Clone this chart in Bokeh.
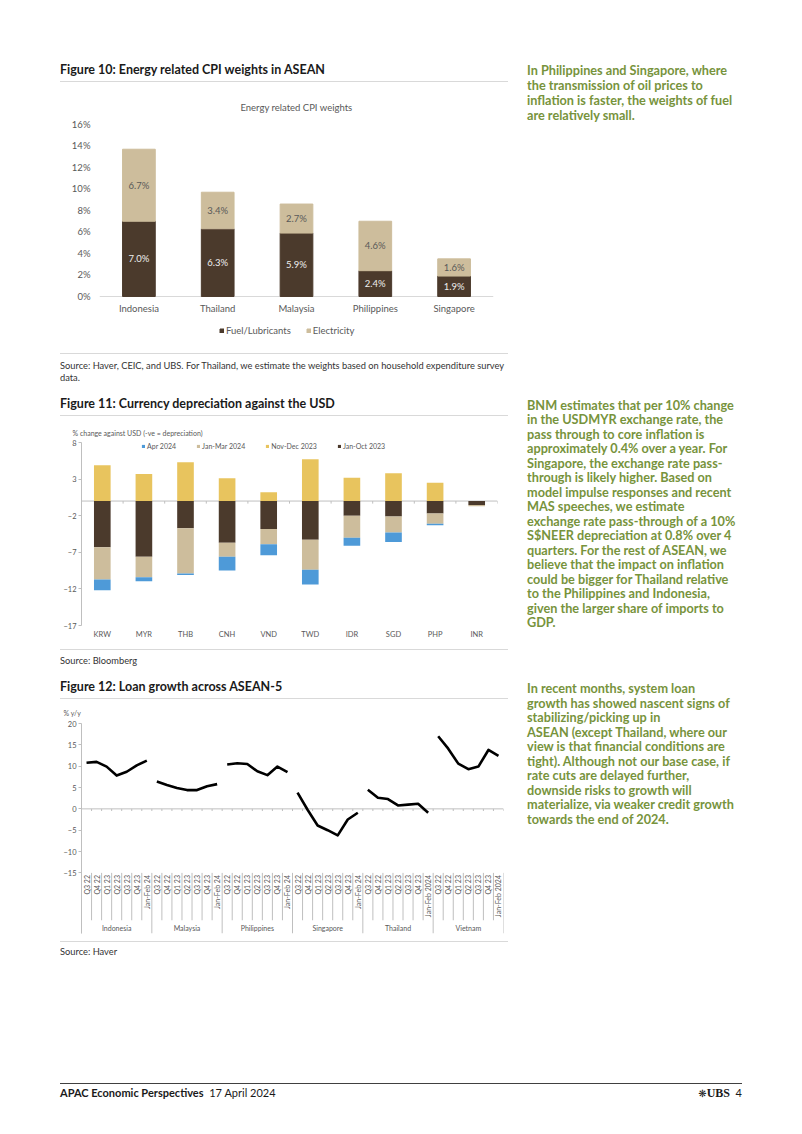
import numpy as np
from math import pi
from bokeh.plotting import figure
from bokeh.models import (ColumnDataSource, Div, Spacer, Span, Legend, LegendItem,
                          FixedTicker, PrintfTickFormatter, FactorRange, Range1d)
from bokeh.layouts import column, row
from bokeh.embed import file_html
from bokeh.resources import INLINE
from bokeh.core.properties import value

FONT = "Lato"
AX_GRAY = "#595959"
LINE_GRAY = "#bfbfbf"
DARK = "#4b3a2c"
TAN = "#cdbd9c"
GOLD = "#e8c45e"
BLUE = "#4e9ad8"
GREEN = "#77933c"

# ---------------- Figure 10 data ----------------
cpi_countries = ["Indonesia", "Thailand", "Malaysia", "Philippines", "Singapore"]
cpi_fuel = [7.0, 6.3, 5.9, 2.4, 1.9]
cpi_electricity = [6.7, 3.4, 2.7, 4.6, 1.6]
cpi_ticks = [0, 2, 4, 6, 8, 10, 12, 14, 16]

# ---------------- Figure 11 data ----------------
fx_currencies = ["KRW", "MYR", "THB", "CNH", "VND", "TWD", "IDR", "SGD", "PHP", "INR"]
fx_jan_oct_2023 = [-6.3, -7.6, -3.7, -5.7, -3.8, -5.3, -2.0, -2.1, -1.7, -0.55]
fx_nov_dec_2023 = [4.9, 3.7, 5.3, 3.1, 1.2, 5.7, 3.2, 3.8, 2.5, 0.0]
fx_jan_mar_2024 = [-4.4, -2.8, -6.2, -1.9, -2.1, -4.1, -3.0, -2.2, -1.4, -0.15]
fx_apr_2024 = [-1.5, -0.55, -0.2, -1.9, -1.5, -2.0, -1.1, -1.3, -0.2, 0.0]
fx_ticks = [8, 3, -2, -7, -12, -17]

# ---------------- Figure 12 data ----------------
loan_countries = ["Indonesia", "Malaysia", "Philippines", "Singapore", "Thailand", "Vietnam"]
periods_24 = ["Q3 22", "Q4 22", "Q1 23", "Q2 23", "Q3 23", "Q4 23", "Jan-Feb 24"]
periods_2024 = ["Q3 22", "Q4 22", "Q1 23", "Q2 23", "Q3 23", "Q4 23", "Jan-Feb 2024"]
loan_periods = [periods_24, periods_24, periods_24, periods_24, periods_2024, periods_2024]
loan_indonesia = [10.8, 11.0, 9.9, 7.8, 8.7, 10.2, 11.3]
loan_malaysia = [6.4, 5.6, 4.9, 4.4, 4.4, 5.3, 5.8]
loan_philippines = [10.4, 10.7, 10.5, 8.8, 7.9, 9.9, 8.6]
loan_singapore = [3.8, -0.2, -3.9, -5.0, -6.2, -2.5, -0.9]
loan_thailand = [4.5, 2.6, 2.3, 0.8, 1.0, 1.2, -0.9]
loan_vietnam = [17.0, 14.1, 10.6, 9.3, 9.9, 13.8, 12.4]
loan_values = [loan_indonesia, loan_malaysia, loan_philippines, loan_singapore, loan_thailand, loan_vietnam]
loan_ticks = [-15, -10, -5, 0, 5, 10, 15, 20]


def base_style(p):
    p.outline_line_color = None
    p.xgrid.visible = False
    p.ygrid.visible = False
    p.background_fill_color = "white"
    p.border_fill_color = "white"


# ================= Figure 10 chart =================
P1_BOTTOM = -4.56      # frame extends below zero to hold category labels and legend
P1_LABEL_Y = -1.12
src1 = ColumnDataSource(dict(
    country=cpi_countries, fuel=cpi_fuel, electricity=cpi_electricity,
    fuel_mid=[f / 2 for f in cpi_fuel],
    elec_mid=[f + e / 2 for f, e in zip(cpi_fuel, cpi_electricity)],
    fuel_lbl=[f"{f:.1f}%" for f in cpi_fuel],
    elec_lbl=[f"{e:.1f}%" for e in cpi_electricity],
    lbl_y=[P1_LABEL_Y] * len(cpi_countries),
))
p1 = figure(x_range=FactorRange(*cpi_countries), y_range=Range1d(P1_BOTTOM, 16), x_axis_location=None,
            width=448, height=271, output_backend="svg", toolbar_location=None,
            min_border_left=39, min_border_right=15, min_border_top=42, min_border_bottom=8,
            title="Energy related CPI weights")
base_style(p1)
p1.add_layout(Span(location=0, dimension="width", line_color="#d9d9d9", line_width=1, level="underlay"))
rs1 = p1.vbar_stack(["fuel", "electricity"], x="country", width=0.415, color=[DARK, TAN], source=src1)
p1.text(x="country", y="fuel_mid", text="fuel_lbl", source=src1, text_align="center",
        text_baseline="middle", text_font=value(FONT), text_font_size="9.5px", text_color="#eeeeee")
p1.text(x="country", y="elec_mid", text="elec_lbl", source=src1, text_align="center",
        text_baseline="middle", text_font=value(FONT), text_font_size="9.5px", text_color=AX_GRAY)
p1.text(x="country", y="lbl_y", text="country", source=src1, text_align="center",
        text_baseline="middle", text_font=value(FONT), text_font_size="9.5px", text_color=AX_GRAY)
p1.yaxis.ticker = FixedTicker(ticks=cpi_ticks)
p1.yaxis.formatter = PrintfTickFormatter(format="%d%%")
p1.yaxis.axis_line_color = None
p1.yaxis.major_tick_line_color = None
p1.yaxis.major_tick_out = 0
p1.yaxis.major_tick_in = 0
p1.yaxis.minor_tick_line_color = None
p1.yaxis.major_label_standoff = 9
p1.yaxis.major_label_text_font = FONT
p1.yaxis.major_label_text_font_size = "9.5px"
p1.yaxis.major_label_text_color = AX_GRAY
p1.title.align = "center"
p1.title.offset = -11
p1.title.standoff = 24
p1.title.text_font = FONT
p1.title.text_font_size = "9.5px"
p1.title.text_font_style = "normal"
p1.title.text_color = AX_GRAY
leg1 = Legend(items=[LegendItem(label="Fuel/Lubricants", renderers=[rs1[0]]),
                     LegendItem(label="Electricity", renderers=[rs1[1]])],
              orientation="horizontal", location=(120, 8.6), glyph_width=5, glyph_height=5,
              label_standoff=2, spacing=15, padding=0, margin=0,
              label_text_font=FONT, label_text_font_size="9.5px", label_text_color=AX_GRAY,
              border_line_color=None, background_fill_alpha=0)
p1.add_layout(leg1)

# ================= Figure 11 chart =================
jo = np.array(fx_jan_oct_2023)
nd = np.array(fx_nov_dec_2023)
jm = np.array(fx_jan_mar_2024)
ap = np.array(fx_apr_2024)
src2 = ColumnDataSource(dict(
    cur=fx_currencies,
    jo_top=np.zeros(len(jo)), jo_bot=jo,
    jm_top=jo, jm_bot=jo + jm,
    ap_top=jo + jm, ap_bot=jo + jm + ap,
    nd_top=nd, nd_bot=np.zeros(len(nd)),
))
p2 = figure(x_range=FactorRange(*fx_currencies), y_range=Range1d(-17, 8),
            width=448, height=233, output_backend="svg", toolbar_location=None,
            min_border_left=21, min_border_right=11, min_border_top=26, min_border_bottom=24,
            title="% change against USD (-ve = depreciation)")
base_style(p2)
p2.add_layout(Span(location=0, dimension="width", line_color=LINE_GRAY, line_width=1, level="underlay"))
bounds2 = list(range(len(fx_currencies) + 1))
p2.segment(x0=bounds2, y0=[0] * len(bounds2), x1=bounds2, y1=[-0.35] * len(bounds2), line_color=LINE_GRAY)
r_jo = p2.vbar(x="cur", top="jo_top", bottom="jo_bot", width=0.4, fill_color=DARK, line_color=None, source=src2)
r_nd = p2.vbar(x="cur", top="nd_top", bottom="nd_bot", width=0.4, fill_color=GOLD, line_color=None, source=src2)
r_jm = p2.vbar(x="cur", top="jm_top", bottom="jm_bot", width=0.4, fill_color=TAN, line_color=None, source=src2)
r_ap = p2.vbar(x="cur", top="ap_top", bottom="ap_bot", width=0.4, fill_color=BLUE, line_color=None, source=src2)
p2.yaxis.ticker = FixedTicker(ticks=fx_ticks)
p2.yaxis.axis_line_color = LINE_GRAY
p2.yaxis.major_tick_line_color = LINE_GRAY
p2.yaxis.major_tick_out = 3
p2.yaxis.major_tick_in = 0
p2.yaxis.minor_tick_line_color = None
p2.yaxis.major_label_standoff = 2
p2.xaxis.axis_line_color = None
p2.xaxis.major_tick_line_color = None
p2.xaxis.major_tick_out = 0
p2.xaxis.major_tick_in = 0
p2.xaxis.major_label_standoff = 4
for ax in (p2.xaxis, p2.yaxis):
    ax.major_label_text_font = FONT
    ax.major_label_text_font_size = "7.5px"
    ax.major_label_text_color = AX_GRAY
p2.title.align = "left"
p2.title.offset = -9
p2.title.standoff = 11
p2.title.text_font = FONT
p2.title.text_font_size = "7px"
p2.title.text_font_style = "normal"
p2.title.text_color = AX_GRAY
leg2 = Legend(items=[LegendItem(label="Apr 2024", renderers=[r_ap]),
                     LegendItem(label="Jan-Mar 2024", renderers=[r_jm]),
                     LegendItem(label="Nov-Dec 2023", renderers=[r_nd]),
                     LegendItem(label="Jan-Oct 2023", renderers=[r_jo])],
              orientation="horizontal", location=(60, 175), glyph_width=4, glyph_height=4,
              label_standoff=2, spacing=20, padding=0, margin=0,
              label_text_font=FONT, label_text_font_size="7px", label_text_color=AX_GRAY,
              border_line_color=None, background_fill_alpha=0)
p2.add_layout(leg2)

# ================= Figure 12 chart =================
loan_factors = [(c, per) for c, pers in zip(loan_countries, loan_periods) for per in pers]
Y_LABEL_TOP = -15.5
Y_SUB_SEP = -26.1
Y_GROUP_LBL = -28.0
Y_BOTTOM = -29.2
p3 = figure(x_range=FactorRange(*loan_factors, factor_padding=0, group_padding=0, range_padding=0),
            y_range=Range1d(Y_BOTTOM, 20), x_axis_location=None,
            width=448, height=242, output_backend="svg", toolbar_location=None,
            min_border_left=21, min_border_right=5, min_border_top=24, min_border_bottom=8,
            title="% y/y")
base_style(p3)
p3.add_layout(Span(location=0, dimension="width", line_color=LINE_GRAY, line_width=1, level="underlay"))
n_all = len(loan_factors)
bounds3 = list(range(n_all + 1))
group_edges = [0]
for pers in loan_periods:
    group_edges.append(group_edges[-1] + len(pers))
p3.segment(x0=bounds3, y0=[0] * len(bounds3), x1=bounds3, y1=[-0.5] * len(bounds3), line_color=LINE_GRAY)
sub_edges = [b for b in bounds3 if b not in group_edges]
p3.segment(x0=sub_edges, y0=[-15] * len(sub_edges), x1=sub_edges, y1=[Y_SUB_SEP] * len(sub_edges),
           line_color=LINE_GRAY)
p3.segment(x0=group_edges, y0=[-15] * len(group_edges), x1=group_edges, y1=[Y_BOTTOM] * len(group_edges),
           line_color=LINE_GRAY)
lbl_src = ColumnDataSource(dict(x=loan_factors, y=[Y_LABEL_TOP] * n_all, t=[f[1] for f in loan_factors]))
p3.text(x="x", y="y", text="t", source=lbl_src, angle=pi / 2, text_align="right", text_baseline="middle",
        text_font=value(FONT), text_font_size="7px", text_color=AX_GRAY)
grp_src = ColumnDataSource(dict(x=loan_countries, y=[Y_GROUP_LBL] * len(loan_countries), t=loan_countries))
p3.text(x="x", y="y", text="t", source=grp_src, text_align="center", text_baseline="middle",
        text_font=value(FONT), text_font_size="7px", text_color=AX_GRAY)
for c, pers, vals in zip(loan_countries, loan_periods, loan_values):
    p3.line(x=[(c, per) for per in pers], y=vals, line_color="black", line_width=2.6, line_join="round")
p3.yaxis.ticker = FixedTicker(ticks=loan_ticks)
p3.yaxis.axis_line_color = LINE_GRAY
p3.yaxis.major_tick_line_color = LINE_GRAY
p3.yaxis.major_tick_out = 3
p3.yaxis.major_tick_in = 0
p3.yaxis.minor_tick_line_color = None
p3.yaxis.major_label_standoff = 2
p3.yaxis.major_label_text_font = FONT
p3.yaxis.major_label_text_font_size = "7.5px"
p3.yaxis.major_label_text_color = AX_GRAY
p3.title.align = "left"
p3.title.offset = -18
p3.title.standoff = 14
p3.title.text_font = FONT
p3.title.text_font_size = "7px"
p3.title.text_font_style = "normal"
p3.title.text_color = AX_GRAY


# ================= Text blocks =================
def title_div(text):
    html = ('<div style="width:448px;height:22px;box-sizing:border-box;line-height:20px;'
            'border-bottom:1px solid #d9d9d9;font-family:Lato;font-weight:700;font-size:12.5px;'
            f'color:#1a1a1a;white-space:nowrap;">{text}</div>')
    return Div(text=html, width=448, height=22, margin=0)


def src_div(text, height, pad, size, lh):
    html = (f'<div style="width:448px;height:{height}px;box-sizing:border-box;border-top:1px solid #d9d9d9;'
            f'padding-top:{pad}px;font-family:Lato;font-size:{size}px;line-height:{lh}px;color:#333333;'
            f'white-space:nowrap;">{text}</div>')
    return Div(text=html, width=448, height=height, margin=0)


left_col = column(
    Spacer(width=448, height=60),
    title_div("Figure 10: Energy related CPI weights in ASEAN"),
    row(p1),
    src_div("Source: Haver, CEIC, and UBS. For Thailand, we estimate the weights based on household expenditure survey<br>data.",
            41, 6, 9.3, 11.7),
    title_div("Figure 11: Currency depreciation against the USD"),
    row(p2),
    src_div("Source: Bloomberg", 28, 5, 9.3, 12),
    title_div("Figure 12: Loan growth across ASEAN-5"),
    row(p3),
    src_div("Source: Haver", 25, 4, 9.3, 12),
    Spacer(width=448, height=117),
)

green_style = ("position:absolute;left:0px;font-family:Lato;font-weight:700;font-size:12.7px;"
               f"line-height:14.5px;color:{GREEN};white-space:nowrap;")
block1 = "In Philippines and Singapore, where<br>the transmission of oil prices to<br>inflation is faster, the weights of fuel<br>are relatively small."
block2 = ("BNM estimates that per 10% change<br>in the USDMYR exchange rate, the<br>pass through to core inflation is<br>"
          "approximately 0.4% over a year. For<br>Singapore, the exchange rate pass-<br>through is likely higher. Based on<br>"
          "model impulse responses and recent<br>MAS speeches, we estimate<br>exchange rate pass-through of a 10%<br>"
          "S$NEER depreciation at 0.8% over 4<br>quarters. For the rest of ASEAN, we<br>believe that the impact on inflation<br>"
          "could be bigger for Thailand relative<br>to the Philippines and Indonesia,<br>given the larger share of imports to<br>GDP.")
block3 = ("In recent months, system loan<br>growth has showed nascent signs of<br>stabilizing/picking up in<br>"
          "ASEAN (except Thailand, where our<br>view is that financial conditions are<br>tight). Although not our base case, if<br>"
          "rate cuts are delayed further,<br>downside risks to growth will<br>materialize, via weaker credit growth<br>"
          "towards the end of 2024.")
right_html = ('<div style="position:relative;width:234px;height:1083px;">'
              f'<div style="{green_style}top:63px;line-height:15px;">{block1}</div>'
              f'<div style="{green_style}top:397.5px;">{block2}</div>'
              f'<div style="{green_style}top:681px;">{block3}</div>'
              '</div>')
right_div = Div(text=right_html, width=234, height=1083, margin=0)

footer_html = ('<div style="width:682px;height:51px;box-sizing:border-box;border-top:1px solid #404040;'
               'padding-top:2px;line-height:14px;font-family:Lato;font-size:11px;color:#1a1a1a;'
               'display:flex;justify-content:space-between;white-space:nowrap;">'
               '<span><b>APAC Economic Perspectives</b>&nbsp; 17 April 2024</span>'
               '<span><span style="font-family:\'DejaVu Sans\';font-size:10px;">&#10059;</span>'
               '<span style="font-family:\'Liberation Serif\';font-weight:700;font-size:12px;">UBS</span>&nbsp; 4</span>'
               '</div>')
footer = row(Spacer(width=60, height=51), Div(text=footer_html, width=682, height=51, margin=0))

page = column(
    row(Spacer(width=60, height=1083), left_col, Spacer(width=19, height=1083), right_div),
    footer,
)

open("out.html", "w").write(file_html(page, INLINE))
